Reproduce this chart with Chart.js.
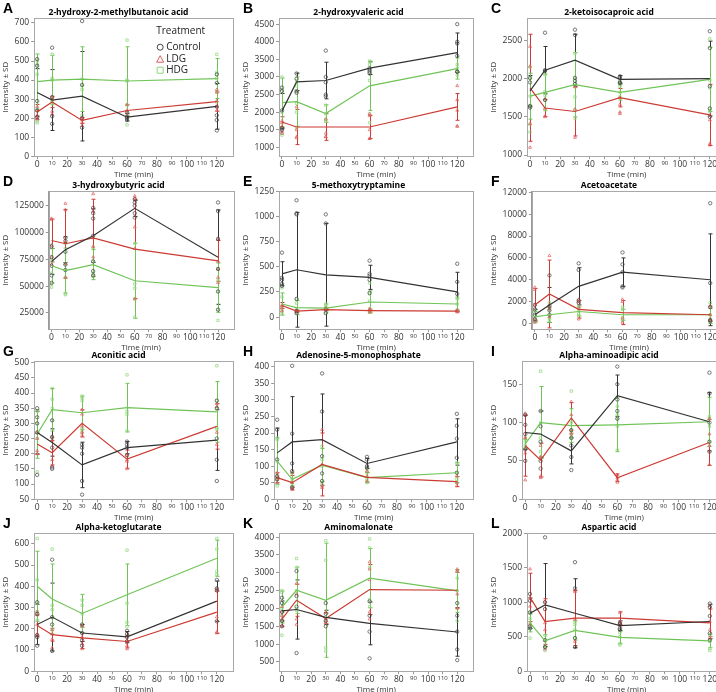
<!DOCTYPE html>
<html>
<head>
<meta charset="utf-8">
<script src="https://cdn.jsdelivr.net/npm/chart.js@4.4.1/dist/chart.umd.min.js"></script>
<style>
html, body { margin: 0; padding: 0; background: #fff; }
#wrap { position: relative; width: 716px; height: 692px; overflow: hidden; }
.cell { position: absolute; height: 182px; }
.cell canvas { position: absolute; left: 0; top: 0; }
.letter { position: absolute; left: 3px; top: 1px; font: bold 14px/14px "Liberation Sans", Arial, sans-serif; color: #000; }
</style>
</head>
<body>
<div id="wrap"></div>
<script>
const FONT = '"Open Sans", "DejaVu Sans", sans-serif';

const times = [0, 10, 30, 60, 120];
const xTickValues = [0, 10, 20, 30, 40, 50, 60, 70, 80, 90, 100, 110, 120];
const groups = ['Control', 'LDG', 'HDG'];
const lineColors = ['#333333', '#cc3b33', '#70c457'];
const pointColors = ['#444444', '#e05a5a', '#8fd67b'];
const pointStyles = ['circle', 'triangle', 'rect'];

const letters = ['A', 'B', 'C', 'D', 'E', 'F', 'G', 'H', 'I', 'J', 'K', 'L'];
const titles = ['2-hydroxy-2-methylbutanoic acid', '2-hydroxyvaleric acid', '2-ketoisocaproic acid',
  '3-hydroxybutyric acid', '5-methoxytryptamine', 'Acetoacetate',
  'Aconitic acid', 'Adenosine-5-monophosphate', 'Alpha-aminoadipic acid',
  'Alpha-ketoglutarate', 'Aminomalonate', 'Aspartic acid'];
const yMin = [0, 750, 985, 9800, -120, -520, 50, 0, 0, 0, 240, 0];
const yMax = [725, 4670, 2790, 138500, 1250, 12100, 505, 417, 180, 650, 4110, 2000];
const yStep = [100, 500, 500, 25000, 250, 2000, 50, 50, 50, 100, 500, 500];

// means / SD per group [Control, LDG, HDG], points per group per time
const A_mean = [[335, 295, 315, 205, 262], [232, 285, 188, 240, 287], [392, 400, 405, 395, 408]];
const A_sd = [[125, 160, 235, 20, 120], [40, 30, 15, 30, 50], [145, 130, 170, 180, 105]];
const A_pts = [
  [[510, 475, 290, 240, 205], [570, 310, 210, 170], [710, 375, 200, 150], [230, 205, 190, 200], [430, 385, 260, 215, 190, 135]],
  [[260, 240, 215, 200, 195], [310, 300, 235, 220], [200, 190, 175, 160], [270, 240, 225], [350, 335, 290, 260, 240]],
  [[500, 480, 430, 240, 185, 175], [535, 410, 400, 290, 280], [405, 370, 350, 215], [610, 400, 395, 270, 165], [535, 440, 430, 410, 340, 285]]];

const B_mean = [[2030, 2860, 2900, 3250, 3690], [1720, 1580, 1580, 1580, 2150], [2270, 2300, 1960, 2750, 3240]];
const B_sd = [[500, 250, 520, 180, 560], [150, 500, 380, 330, 380], [700, 700, 250, 700, 300]];
const B_pts = [
  [[2700, 2600, 2050, 1550, 1500], [3100, 2950, 2600, 2550], [3750, 3000, 2850, 2500, 2450], [3250, 3200, 3150, 3100], [4500, 4000, 3950, 3600, 3150, 3150]],
  [[1750, 1700, 1600, 1450, 1400], [2150, 1500, 1300, 1270], [1800, 1400, 1300, 1300], [1950, 1900, 1500, 1250, 1250], [2750, 2350, 2050, 1600, 1600]],
  [[3000, 2650, 2000, 1400, 1350], [2900, 2750, 2250, 2000, 1550], [2200, 1950, 1800, 1750], [3450, 3350, 2900, 1950, 1700], [3350, 3250, 3150, 3050]]];

const C_mean = [[1840, 2110, 2240, 1990, 2000], [1880, 1615, 1570, 1750, 1525], [1770, 1820, 1920, 1820, 1990]];
const C_sd = [[200, 310, 340, 50, 490], [700, 110, 320, 120, 400], [300, 240, 420, 100, 420]];
const C_pts = [
  [[2010, 1950, 1640, 1620], [2600, 2110, 2100, 1720], [2640, 2570, 2010, 1970, 1930], [2030, 2010, 1950, 1940], [2620, 2400, 1900, 1610, 1500]],
  [[2420, 2160, 1410, 1100], [1610, 1510, 1500, 1730], [1890, 1600, 1230], [1750, 1660, 1560, 1540], [1520, 1460, 1150, 1130]],
  [[2150, 2000, 1770, 1650, 1400, 1300], [2050, 1830, 1780, 1600], [2330, 2000, 1930, 1760, 1590, 1480], [1970, 1900, 1820, 1760], [2520, 1980, 1880, 1600, 1570]]];

const D_mean = [[73000, 84000, 97000, 122500, 77000], [92500, 89500, 95000, 84500, 73500], [69000, 64500, 70000, 55000, 48500]];
const D_sd = [[12000, 12000, 25000, 7500, 44000], [20000, 32000, 36000, 46000, 19000], [16000, 21000, 14000, 35000, 23000]];
const D_pts = [
  [[87000, 77000, 69000, 60000, 53000], [95000, 92000, 82000, 70000, 65000], [123000, 118000, 113000, 97000, 73000, 64000, 60000], [131000, 128000, 125000, 118000, 114000], [128000, 120000, 94000, 66000, 45000, 28000]],
  [[113000, 112000, 88000, 77000, 70000], [127000, 121000, 91000, 71000, 58000], [136000, 120000, 95000, 87000, 77000], [134000, 132000, 105000, 85000, 38000], [94000, 73000, 66000, 58000, 53000]],
  [[88000, 74000, 62000, 52000, 49000], [90000, 71000, 58000, 43000, 42000], [86000, 73000, 62000, 60000, 59000], [90000, 52000, 48000, 38000, 21000], [66000, 55000, 45000, 28000, 18000]]];

const E_mean = [[430, 470, 420, 395, 250], [115, 60, 75, 65, 60], [130, 95, 90, 150, 130]];
const E_sd = [[120, 570, 510, 120, 195], [30, 10, 10, 15, 10], [110, 70, 40, 110, 60]];
const E_pts = [
  [[640, 390, 370, 330, 310], [1160, 1030, 1020, 180, 60, 40], [1020, 930, 80, 40], [560, 430, 410, 370, 240], [530, 350, 230]],
  [[120, 110, 90, 60], [70, 60, 50], [90, 80, 70], [80, 70, 50], [70, 60, 50]],
  [[290, 200, 100, 60, 30], [180, 140, 80, 40], [130, 110, 80, 40], [340, 230, 160, 80, 50], [200, 180, 130, 70]]];

const F_mean = [[800, 1700, 3400, 4700, 4000], [1700, 2700, 1300, 1000, 800], [600, 800, 1100, 800, 800]];
const F_sd = [[500, 1600, 1700, 1300, 4200], [1500, 3100, 800, 1100, 600], [500, 700, 400, 500, 800]];
const F_pts = [
  [[1700, 1300, 800, 400], [4400, 1600, 1200, 800], [5500, 4900, 2100, 1900], [6500, 5400, 4700, 3400, 3300], [11000, 3700, 1500, 300, 200]],
  [[3300, 3100, 1700, 400, 100], [6200, 1500, 1300, 600], [2200, 2000, 1400, 400], [2200, 2000, 500, 100], [1600, 800, 400, 300]],
  [[1200, 900, 500, 200], [1900, 1400, 500, 300], [1600, 1300, 900, 700], [1500, 1300, 500, 300], [1900, 800, 400]]];

const G_mean = [[270, 237, 163, 220, 245], [232, 203, 300, 182, 290], [265, 345, 335, 352, 338]];
const G_sd = [[70, 45, 75, 20, 100], [35, 40, 45, 30, 75], [80, 70, 55, 80, 100]];
const G_pts = [
  [[350, 320, 300, 270, 130], [310, 255, 220, 155, 150], [230, 220, 200, 110, 65], [240, 230, 220, 195], [375, 350, 250, 180, 110]],
  [[270, 250, 210, 200], [255, 245, 180, 160], [345, 330, 290, 270, 260], [195, 180, 175, 150], [365, 355, 270, 230]],
  [[340, 300, 250, 140], [415, 380, 350, 310, 255], [390, 385, 375, 280, 270], [460, 340, 330, 275], [490, 375, 350, 285, 280]]];

const H_mean = [[140, 173, 180, 108, 173], [65, 50, 105, 66, 53], [115, 60, 103, 65, 80]];
const H_sd = [[75, 137, 138, 15, 70], [15, 22, 95, 15, 15], [70, 20, 50, 15, 30]];
const H_pts = [
  [[240, 210, 120, 70, 60], [403, 198, 108, 85, 35], [380, 265, 130, 78, 55], [128, 120, 100, 95], [258, 222, 183, 125, 80]],
  [[80, 70, 60, 50], [80, 50, 35, 30], [210, 105, 40, 35], [85, 70, 55], [70, 50, 40]],
  [[185, 180, 115, 60, 40], [80, 60, 50, 40], [160, 120, 100, 45], [90, 80, 60, 50], [110, 80, 60, 50]]];

const I_mean = [[87, 85, 63, 135, 101], [70, 51, 106, 28, 74], [72, 100, 96, 97, 101]];
const I_sd = [[22, 30, 17, 27, 38], [40, 22, 20, 5, 30], [6, 47, 22, 35, 32]];
const I_pts = [
  [[110, 97, 85, 65, 50], [115, 95, 75, 50, 40], [90, 80, 70, 55, 38], [173, 150, 130, 115, 105], [165, 138, 100, 75, 62]],
  [[112, 80, 60, 25], [70, 55, 30, 28], [127, 110, 90, 85], [32, 28, 25, 22], [105, 85, 70, 45]],
  [[80, 75, 70, 68], [167, 100, 80, 62, 55], [141, 100, 90, 85, 80], [121, 110, 105, 95, 64], [108, 105, 95, 75]]];

const J_mean = [[220, 255, 180, 162, 330], [215, 172, 157, 140, 278], [400, 340, 272, 360, 532]];
const J_sd = [[95, 160, 40, 25, 95], [50, 30, 50, 30, 100], [165, 165, 90, 145, 85]];
const J_pts = [
  [[325, 270, 170, 160, 120], [525, 255, 220, 95], [220, 180, 145, 120], [190, 175, 160, 140], [430, 390, 380, 235]],
  [[280, 265, 220, 175, 165], [195, 175, 150, 110], [215, 160, 130, 105], [145, 135, 120, 105], [390, 380, 255, 185, 180]],
  [[625, 430, 320, 280, 240], [575, 310, 290, 195], [335, 310, 270, 210], [570, 320, 230, 210], [625, 575, 470, 455]]];

const K_mean = [[1930, 1970, 1750, 1580, 1340], [1700, 2230, 1720, 2530, 2510], [2040, 2510, 2230, 2850, 2490]];
const K_sd = [[280, 830, 200, 600, 680], [200, 450, 150, 700, 500], [450, 650, 1600, 830, 600]];
const K_pts = [
  [[2300, 2150, 1900, 1650, 1500], [3050, 2350, 2050, 750], [2150, 1850, 1650, 1500], [2200, 1800, 1350, 600], [2150, 1800, 1350, 850, 550]],
  [[2050, 1800, 1700, 1500], [2700, 2400, 1700, 1550], [1900, 1700, 1650, 1600], [3300, 3100, 2800, 1900, 1700], [3100, 3050, 2400, 2000]],
  [[2500, 2450, 2000, 1800, 1250], [3400, 3150, 2500, 2000, 1950], [3900, 3350, 900, 800], [3950, 3700, 3150, 2250, 2050], [3050, 2850, 2500, 1650]]];

const L_mean = [[840, 960, 840, 660, 720], [1070, 720, 770, 770, 700], [700, 440, 590, 490, 440]];
const L_sd = [[220, 600, 500, 70, 250], [350, 330, 400, 90, 200], [130, 90, 140, 90, 100]];
const L_pts = [
  [[1120, 1020, 850, 650, 620], [1940, 1000, 900, 450, 350], [1580, 1200, 480, 350], [700, 680, 620, 600], [980, 930, 800, 550, 450]],
  [[1480, 1070, 940, 680], [1010, 700, 600, 320], [1170, 1150, 750, 430], [850, 720, 690, 660], [950, 720, 600, 480]],
  [[860, 760, 700, 620, 480], [520, 440, 350, 300], [720, 680, 600, 480], [560, 500, 400, 380], [520, 430, 330, 300]]];

const allMeans = [A_mean, B_mean, C_mean, D_mean, E_mean, F_mean, G_mean, H_mean, I_mean, J_mean, K_mean, L_mean];
const allSds = [A_sd, B_sd, C_sd, D_sd, E_sd, F_sd, G_sd, H_sd, I_sd, J_sd, K_sd, L_sd];
const allPts = [A_pts, B_pts, C_pts, D_pts, E_pts, F_pts, G_pts, H_pts, I_pts, J_pts, K_pts, L_pts];

const colLeft = [0, 240, 488];
const colWidth = [238, 238, 243]; // third column runs past the page edge, as in the source figure
const rowTop = [0, 173, 343, 515];

// grey box around the plot area
const framePlugin = {
  id: 'frame',
  afterDraw(chart) {
    const { ctx, chartArea: a } = chart;
    ctx.save();
    ctx.strokeStyle = '#a8a8a8';
    ctx.lineWidth = 1;
    ctx.strokeRect(Math.round(a.left) + 0.5, Math.round(a.top) + 0.5, Math.round(a.right - a.left), Math.round(a.bottom - a.top));
    ctx.restore();
  }
};

function makeErrorBars(means, sds) {
  return {
    id: 'errorBars',
    beforeDatasetsDraw(chart) {
      const { ctx, chartArea: a } = chart;
      const xs = chart.scales.x, ys = chart.scales.y;
      ctx.save();
      ctx.beginPath();
      ctx.rect(a.left, a.top, a.right - a.left, a.bottom - a.top);
      ctx.clip();
      ctx.lineWidth = 1;
      means.forEach((m, g) => {
        ctx.strokeStyle = lineColors[g];
        m.forEach((v, i) => {
          const x = Math.round(xs.getPixelForValue(times[i])) + 0.5;
          const y1 = ys.getPixelForValue(v - sds[g][i]);
          const y2 = ys.getPixelForValue(v + sds[g][i]);
          ctx.beginPath();
          ctx.moveTo(x, y1); ctx.lineTo(x, y2);
          ctx.moveTo(x - 2, y1); ctx.lineTo(x + 2, y1);
          ctx.moveTo(x - 2, y2); ctx.lineTo(x + 2, y2);
          ctx.stroke();
        });
      });
      ctx.restore();
    }
  };
}

const legendPlugin = {
  id: 'treatmentLegend',
  afterDraw(chart) {
    const { ctx, chartArea: a } = chart;
    const L = a.left, T = a.top;
    ctx.save();
    ctx.textBaseline = 'middle';
    ctx.fillStyle = '#222';
    ctx.font = '10px ' + FONT;
    ctx.fillText('Treatment', L + 122, T + 13);
    const ys = [T + 29, T + 41, T + 52];
    groups.forEach((name, g) => {
      const cx = L + 126, cy = ys[g];
      ctx.strokeStyle = pointColors[g];
      ctx.lineWidth = 1;
      ctx.beginPath();
      if (g === 0) ctx.arc(cx, cy, 3, 0, Math.PI * 2);
      else if (g === 1) { ctx.moveTo(cx, cy - 3.5); ctx.lineTo(cx + 3.5, cy + 3); ctx.lineTo(cx - 3.5, cy + 3); ctx.closePath(); }
      else ctx.rect(cx - 3, cy - 3, 6, 6);
      ctx.stroke();
      ctx.fillStyle = '#222';
      ctx.fillText(name, L + 132, cy);
    });
    ctx.restore();
  }
};

const wrap = document.getElementById('wrap');

letters.forEach((letter, idx) => {
  const col = idx % 3;
  const cell = document.createElement('div');
  cell.className = 'cell';
  cell.style.left = colLeft[col] + 'px';
  cell.style.top = rowTop[Math.floor(idx / 3)] + 'px';
  cell.style.width = colWidth[col] + 'px';
  const canvas = document.createElement('canvas');
  canvas.width = colWidth[col];
  canvas.height = 182;
  cell.appendChild(canvas);
  const lab = document.createElement('div');
  lab.className = 'letter';
  lab.textContent = letter;
  cell.appendChild(lab);
  wrap.appendChild(cell);

  const means = allMeans[idx], sds = allSds[idx], pts = allPts[idx];
  const datasets = [];
  groups.forEach((name, g) => {
    datasets.push({
      type: 'line',
      label: name,
      data: times.map((t, i) => ({ x: t, y: means[g][i] })),
      borderColor: lineColors[g],
      borderWidth: 1.2,
      pointRadius: 0,
      fill: false,
      tension: 0,
      order: 1
    });
    datasets.push({
      type: 'scatter',
      label: name + ' points',
      data: pts[g].flatMap((arr, i) => arr.map(v => ({ x: times[i], y: v }))),
      pointStyle: pointStyles[g],
      pointRadius: 1.7,
      borderColor: pointColors[g],
      backgroundColor: 'rgba(0,0,0,0)',
      borderWidth: 0.7,
      order: 2
    });
  });

  const plugins = [framePlugin, makeErrorBars(means, sds)];
  if (idx === 0) plugins.push(legendPlugin);

  // y ticks at multiples of the step inside the axis range
  const yTicks = [];
  for (let v = Math.ceil(yMin[idx] / yStep[idx]) * yStep[idx]; v <= yMax[idx]; v += yStep[idx]) yTicks.push(v);

  new Chart(canvas, {
    type: 'scatter',
    data: { datasets },
    options: {
      responsive: false,
      animation: false,
      events: [],
      layout: { padding: { left: 1, right: 2, top: 0, bottom: 2 } },
      plugins: {
        legend: { display: false },
        tooltip: { enabled: false },
        title: {
          display: true,
          text: titles[idx],
          color: '#000',
          font: { family: FONT, size: 8.5, weight: 'bold' },
          padding: { top: 7, bottom: 1 }
        }
      },
      scales: {
        x: {
          type: 'linear',
          min: -2,
          max: 131,
          afterBuildTicks: s => { s.ticks = xTickValues.map(v => ({ value: v })); },
          grid: { drawOnChartArea: false, tickLength: 3, color: '#999' },
          border: { color: '#999' },
          ticks: {
            autoSkip: false,
            maxRotation: 0,
            padding: 0,
            color: '#333',
            font: c => ({ family: FONT, size: (c.tick && c.tick.value % 20 === 10) ? 6 : 8.5 })
          },
          title: { display: true, text: 'Time (min)', color: '#333', font: { family: FONT, size: 8 }, padding: { top: 1, bottom: 0 } }
        },
        y: {
          min: yMin[idx],
          max: yMax[idx],
          afterBuildTicks: s => { s.ticks = yTicks.map(v => ({ value: v })); },
          grid: { drawOnChartArea: false, tickLength: 3, color: '#999' },
          border: { color: '#999' },
          ticks: {
            padding: 2,
            color: '#333',
            font: { family: FONT, size: 8.5 },
            callback: v => String(v)
          },
          title: { display: true, text: 'Intensity ± SD', color: '#333', font: { family: FONT, size: 8 }, padding: { top: 0, bottom: 2 } }
        }
      }
    },
    plugins
  });
});
</script>
</body>
</html>
